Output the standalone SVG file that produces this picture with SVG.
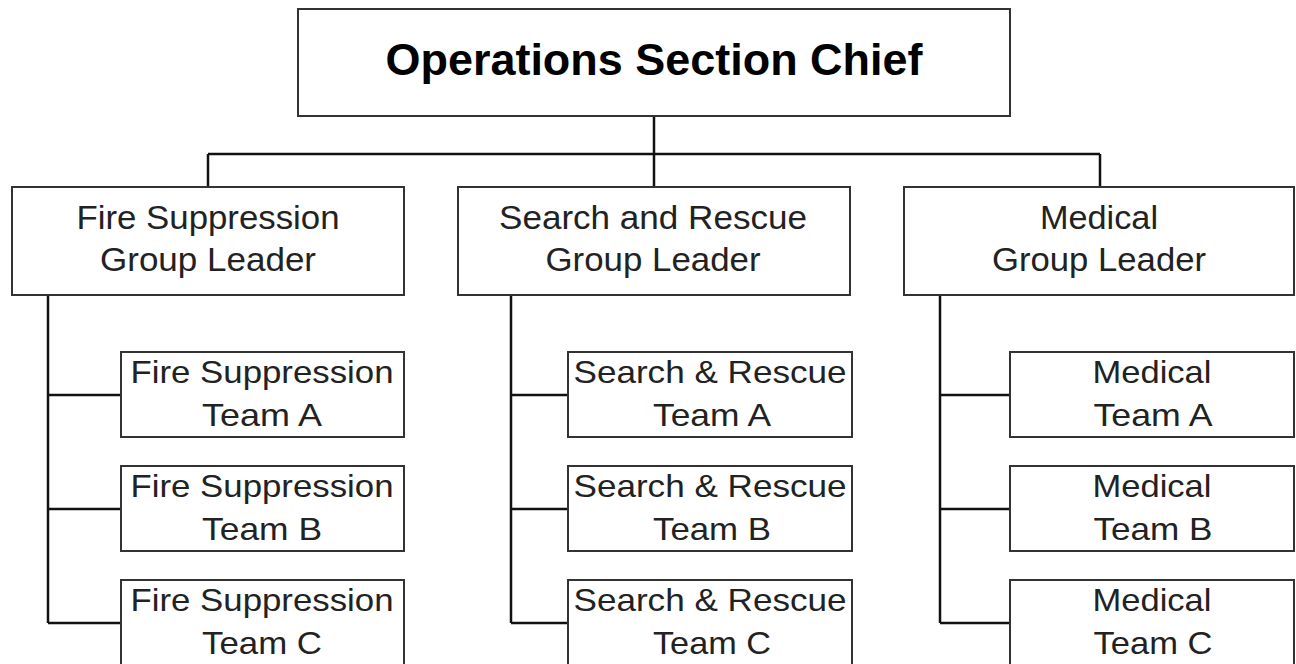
<svg xmlns="http://www.w3.org/2000/svg" width="1296" height="664" viewBox="0 0 1296 664">
<style>
.box{fill:#fff;stroke:#333;stroke-width:2}
.t{font-family:"Liberation Sans",Arial,sans-serif;fill:#222;text-anchor:middle}
.g{font-size:33px}
.m{font-size:32px}
.title{font-family:"Liberation Sans",Arial,sans-serif;font-weight:bold;font-size:44px;fill:#000;text-anchor:middle}
.c{fill:none;stroke:#111;stroke-width:2.5}
</style>
<rect width="1296" height="664" fill="#fff"/>
<g id="connectors">
<path class="c" d="M654 116V187M208 154H1100M208 154V187M1100 154V187"/>
<path class="c" d="M48 295V623M48 395H121M48 509H121M48 623H121"/>
<path class="c" d="M511 295V623M511 395H568M511 509H568M511 623H568"/>
<path class="c" d="M940 295V623M940 395H1010M940 509H1010M940 623H1010"/>
</g>
<g id="chief">
<rect class="box" x="298" y="9" width="712" height="107"/>
<text class="title" x="654" y="75" textLength="537" lengthAdjust="spacingAndGlyphs">Operations Section Chief</text>
</g>
<g id="fire-leader">
<rect class="box" x="12" y="187" width="392" height="108"/>
<text class="t g" x="208" y="229" textLength="263" lengthAdjust="spacingAndGlyphs">Fire Suppression</text>
<text class="t g" x="208" y="271" textLength="216" lengthAdjust="spacingAndGlyphs">Group Leader</text>
</g>
<g id="sar-leader">
<rect class="box" x="458" y="187" width="392" height="108"/>
<text class="t g" x="653" y="229" textLength="308" lengthAdjust="spacingAndGlyphs">Search and Rescue</text>
<text class="t g" x="653" y="271" textLength="215" lengthAdjust="spacingAndGlyphs">Group Leader</text>
</g>
<g id="med-leader">
<rect class="box" x="904" y="187" width="390" height="108"/>
<text class="t g" x="1099" y="229" textLength="118" lengthAdjust="spacingAndGlyphs">Medical</text>
<text class="t g" x="1099" y="271" textLength="214" lengthAdjust="spacingAndGlyphs">Group Leader</text>
</g>
<g id="fire-a">
<rect class="box" x="121" y="352" width="283" height="85"/>
<text class="t m" x="262" y="383" textLength="263" lengthAdjust="spacingAndGlyphs">Fire Suppression</text>
<text class="t m" x="262" y="426" textLength="120" lengthAdjust="spacingAndGlyphs">Team A</text>
</g>
<g id="fire-b">
<rect class="box" x="121" y="466" width="283" height="85"/>
<text class="t m" x="262" y="497" textLength="263" lengthAdjust="spacingAndGlyphs">Fire Suppression</text>
<text class="t m" x="262" y="540" textLength="120" lengthAdjust="spacingAndGlyphs">Team B</text>
</g>
<g id="fire-c">
<rect class="box" x="121" y="580" width="283" height="90"/>
<text class="t m" x="262" y="611" textLength="263" lengthAdjust="spacingAndGlyphs">Fire Suppression</text>
<text class="t m" x="262" y="654" textLength="120" lengthAdjust="spacingAndGlyphs">Team C</text>
</g>
<g id="sar-a">
<rect class="box" x="568" y="352" width="284" height="85"/>
<text class="t m" x="710" y="383" textLength="273" lengthAdjust="spacingAndGlyphs">Search &amp; Rescue</text>
<text class="t m" x="712" y="426" textLength="118" lengthAdjust="spacingAndGlyphs">Team A</text>
</g>
<g id="sar-b">
<rect class="box" x="568" y="466" width="284" height="85"/>
<text class="t m" x="710" y="497" textLength="273" lengthAdjust="spacingAndGlyphs">Search &amp; Rescue</text>
<text class="t m" x="712" y="540" textLength="118" lengthAdjust="spacingAndGlyphs">Team B</text>
</g>
<g id="sar-c">
<rect class="box" x="568" y="580" width="284" height="90"/>
<text class="t m" x="710" y="611" textLength="273" lengthAdjust="spacingAndGlyphs">Search &amp; Rescue</text>
<text class="t m" x="712" y="654" textLength="118" lengthAdjust="spacingAndGlyphs">Team C</text>
</g>
<g id="med-a">
<rect class="box" x="1010" y="352" width="284" height="85"/>
<text class="t m" x="1152" y="383" textLength="119" lengthAdjust="spacingAndGlyphs">Medical</text>
<text class="t m" x="1153" y="426" textLength="119" lengthAdjust="spacingAndGlyphs">Team A</text>
</g>
<g id="med-b">
<rect class="box" x="1010" y="466" width="284" height="85"/>
<text class="t m" x="1152" y="497" textLength="119" lengthAdjust="spacingAndGlyphs">Medical</text>
<text class="t m" x="1153" y="540" textLength="119" lengthAdjust="spacingAndGlyphs">Team B</text>
</g>
<g id="med-c">
<rect class="box" x="1010" y="580" width="284" height="90"/>
<text class="t m" x="1152" y="611" textLength="119" lengthAdjust="spacingAndGlyphs">Medical</text>
<text class="t m" x="1153" y="654" textLength="119" lengthAdjust="spacingAndGlyphs">Team C</text>
</g>
</svg>
